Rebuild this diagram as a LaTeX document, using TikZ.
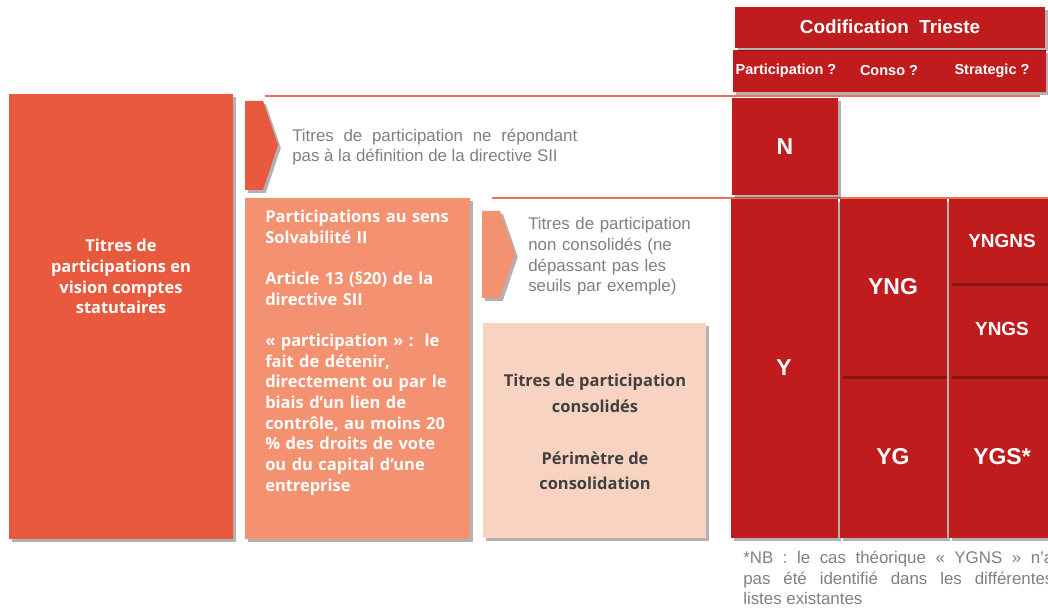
\documentclass[tikz,border=0pt]{standalone}
\usepackage{fontspec}
\setmainfont{Liberation Sans}
\newfontfamily\boxfont{Open Sans}
\usetikzlibrary{shadows}
\definecolor{codered}{RGB}{192,28,30}
\definecolor{statorange}{RGB}{232,89,61}
\definecolor{siisalmon}{RGB}{244,145,112}
\definecolor{consopeach}{RGB}{248,211,194}
\definecolor{rulecolor}{RGB}{240,112,84}
\definecolor{notegray}{RGB}{128,128,128}
\definecolor{darktext}{RGB}{64,64,64}

\begin{document}
\begin{tikzpicture} [x = 0.025cm, y = -0.025cm,
    shadowed/.style = {drop shadow = {shadow xshift = 2pt, shadow yshift = -2pt, opacity = 0.3, fill = black}},
    boldtext/.style = {text = white, inner sep = 0, font = \boxfont\bfseries\fontsize{11.7}{14.7}\selectfont},
    greytext/.style = {text = notegray, inner sep = 0, font = \fontsize{12}{14.7}\selectfont},
    headtext/.style = {text = white, font = \bfseries\fontsize{13.4}{16}\selectfont},
    subtext/.style = {text = white, inner sep = 0, font = \bfseries\fontsize{10.3}{12}\selectfont},
    letterbig/.style = {text = white, font = \bfseries\fontsize{16.3}{19}\selectfont},
    lettersmall/.style = {text = white, font = \bfseries\fontsize{13.5}{16}\selectfont}]
\useasboundingbox (0, 0) rectangle (1048, 610);
\clip (0, 0) rectangle (1048, 610);
\draw[rulecolor, line width = 1pt] (265, 96) -- (1040, 96);
\draw[rulecolor, line width = 1pt] (492, 198) -- (1048, 198);
\fill[statorange, shadowed] (9, 94) rectangle (233, 539);
\fill[statorange, shadowed] (245, 101) -- (263, 101) -- (278, 145) -- (263, 190) -- (245, 190) -- cycle;
\fill[siisalmon, shadowed] (245, 198) rectangle (470, 539);
\fill[siisalmon, shadowed] (482, 211) -- (500, 211) -- (515, 254) -- (500, 298) -- (482, 298) -- cycle;
\fill[consopeach, shadowed] (483, 323) rectangle (706, 538);
\fill[codered, shadowed] (733, 50) rectangle (1046, 92);
\fill[codered, shadowed] (735, 7) rectangle (1045, 48);
\fill[codered, shadowed] (732, 98) rectangle (838, 195);
\fill[codered, shadowed] (731, 199) rectangle (838, 538);
\fill[codered, shadowed] (840, 376) rectangle (947, 538);
\fill[codered, shadowed] (840, 199) rectangle (947, 376);
\fill[codered, shadowed] (949, 376) rectangle (1060, 538);
\fill[codered, shadowed] (949, 283) rectangle (1060, 376);
\fill[codered, shadowed] (949, 199) rectangle (1060, 283);
\node[boldtext, align = center] (statutaires) at (121, 276.5){Titres de\\participations en\\vision comptes\\statutaires};
\node[greytext, anchor = west, text width = 7.125cm, align = justify] (horsii) at (292, 147){Titres de participation ne répondant\linebreak pas à la définition de la directive SII};
\node[boldtext, anchor = west, text width = 5cm, align = left] (solvabilite) at (265, 352.5){Participations au sens\\Solvabilité II\\[14.7pt]Article 13 (§20) de la\\directive SII\\[14.7pt]« participation » :\ \ le\\fait de détenir,\\directement ou par le\\biais d’un lien de\\contrôle, au moins 20\\\% des droits de vote\\ou du capital d’une\\entreprise};
\node[greytext, anchor = west, text width = 5cm, align = left] (nonconso) at (528, 256.5){Titres de participation\\non consolidés (ne\\dépassant pas les\\seuils par exemple)};
\node[boldtext, text = darktext, align = center, font = \boxfont\bfseries\fontsize{11.7}{18.4}\selectfont] (conso) at (595, 432){Titres de participation\\consolidés\\[18.4pt]Périmètre de\\consolidation};
\node[headtext] (codification) at (890, 27){Codification\ \ Trieste};
\node[subtext] (participation) at (786, 71){Participation ?};
\node[subtext] (consoq) at (889, 71){Conso ?};
\node[subtext] (strategic) at (992, 71){Strategic ?};
\node[letterbig] (n) at (785, 147){N};
\node[letterbig] (y) at (784, 368){Y};
\node[letterbig] (yng) at (893, 287){YNG};
\node[letterbig] (yg) at (893, 457){YG};
\node[lettersmall] (yngns) at (1002, 241){YNGNS};
\node[lettersmall] (yngs) at (1002, 329){YNGS};
\node[letterbig] (ygs) at (1002, 457){YGS*};
\node[greytext, anchor = west, text width = 7.75cm, align = justify] (note) at (743, 578){*NB : le cas théorique « YGNS » n’a\linebreak pas été identifié dans les différentes\linebreak listes existantes};
\end{tikzpicture}
\end{document}
